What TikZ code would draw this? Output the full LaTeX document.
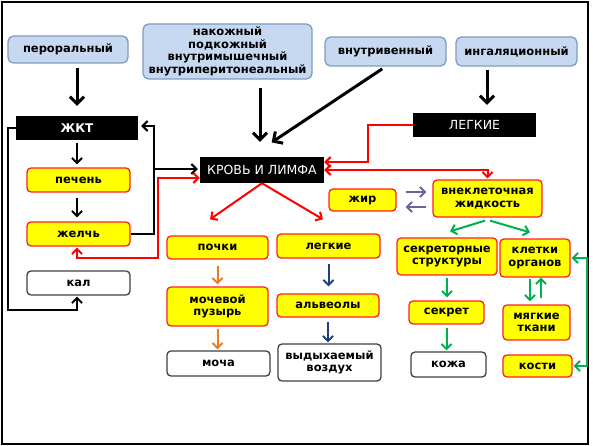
\documentclass[tikz,border=0pt]{standalone}
\usepackage{fontspec}
\setmainfont{DejaVu Sans}
\usetikzlibrary{arrows.meta,calc}
\definecolor{bluefill}{HTML}{C6D9F1}
\definecolor{blueline}{HTML}{7F9DC0}
\definecolor{ylw}{HTML}{FFFF00}
\definecolor{redl}{HTML}{FF2020}
\definecolor{grn}{HTML}{00B050}
\definecolor{orng}{HTML}{F07820}
\definecolor{dblue}{HTML}{1F3F7F}
\definecolor{purp}{HTML}{7060A0}
\definecolor{gryl}{HTML}{404040}
\begin{document}
\begin{tikzpicture}[x=1pt,y=-1pt,
 wh/.style n args={2}{minimum width=#1pt, minimum height=#2pt},
 box/.style={rounded corners=4pt, inner sep=0pt, align=center, font=\fontsize{11.5}{12.5}\selectfont\bfseries},
 route/.style={box, rounded corners=5.5pt, fill=bluefill, draw=blueline, line width=1.3pt},
 yel/.style={box, fill=ylw, draw=redl, line width=1.3pt},
 wht/.style={box, fill=white, draw=gryl, line width=1.3pt},
 blk/.style={inner sep=0pt, fill=black, text=white, align=center, font=\fontsize{12.5}{13.5}\selectfont},
 bigarr/.style={line width=3pt, -{Straight Barb[length=7pt,width=14pt]}},
 smarr/.style={line width=2pt, -{Straight Barb[length=5pt,width=10pt]}},
 redarr/.style={draw=red, line width=2pt, -{Straight Barb[length=5pt,width=10pt]}},
 redboth/.style={draw=red, line width=2pt, {Straight Barb[length=5pt,width=10pt]}-{Straight Barb[length=5pt,width=10pt]}},
 grnarr/.style={draw=grn, line width=2pt, -{Straight Barb[length=5pt,width=10pt]}},
 grnboth/.style={draw=grn, line width=2pt, {Straight Barb[length=5pt,width=10pt]}-{Straight Barb[length=5pt,width=10pt]}},
 orarr/.style={draw=orng, line width=2pt, -{Straight Barb[length=5pt,width=10pt]}},
 dbarr/.style={draw=dblue, line width=2pt, -{Straight Barb[length=5pt,width=10pt]}},
 puarr/.style={draw=purp, line width=2pt, -{Straight Barb[length=5pt,width=10pt]}},
]
\fill[white] (0,0) rectangle (593,446);
\useasboundingbox (0,0) rectangle (593,446);
\draw[line width=2pt] (1.5,2) rectangle (588,444);

% routes
\node[route, wh={120}{27}] (per) at (68,49.5) {пероральный};
\node[route, wh={169}{55}] (skin) at (227.5,51.5) {накожный\\подкожный\\внутримышечный\\внутриперитонеальный};
\node[route, wh={121}{29}] (iv) at (385.5,51.5) {внутривенный};
\node[route, wh={121}{29}] (inh) at (516.5,51.5) {ингаляционный};

% black boxes
\node[blk, wh={122}{24}, font=\fontsize{12}{13}\selectfont\bfseries] (gkt) at (77,128) {ЖКТ};
\node[blk, wh={123}{24}] (leg) at (474.5,125) {ЛЕГКИЕ};
\node[blk, wh={124}{26}] (blood) at (262,170) {КРОВЬ И ЛИМФА};

% left column
\node[yel, wh={103}{24}] (liver) at (78.5,180) {печень};
\node[yel, wh={103}{24}] (bile) at (78.5,234) {желчь};
\node[wht, wh={103}{24}] (feces) at (78.5,283) {кал};

% middle
\node[yel, wh={101}{23}] (kidn) at (217.5,247.5) {почки};
\node[yel, wh={103}{24}] (lungs) at (328.5,246) {легкие};
\node[yel, wh={101}{39}] (blad) at (217.5,306.5) {мочевой\\пузырь};
\node[yel, wh={102}{23}] (alv) at (328,305.5) {альвеолы};
\node[wht, wh={103}{25}] (urine) at (218.5,363.5) {моча};
\node[wht, wh={103}{37}] (air) at (329.5,362.5) {выдыхаемый\\воздух};

% right
\node[yel, wh={67}{22}] (fat) at (362.5,200) {жир};
\node[yel, wh={109}{37}] (ecf) at (487.5,198.5) {внеклеточная\\жидкость};
\node[yel, wh={100}{37}] (secs) at (447,256.5) {секреторные\\структуры};
\node[yel, wh={70}{38}] (cells) at (535,258) {клетки\\органов};
\node[yel, wh={75}{23}] (secr) at (446.5,312.5) {секрет};
\node[wht, wh={75}{25}] (kozha) at (448.5,364.5) {кожа};
\node[yel, wh={67}{35}] (soft) at (536.5,322.5) {мягкие\\ткани};
\node[yel, wh={69}{22}] (bone) at (537.5,366) {кости};

% route arrows
\draw[bigarr, shorten <=4pt, shorten >=10pt] (per.south -| gkt.north) -- (gkt.north);
\coordinate (b1) at ([xshift=-2pt]blood.north);
\draw[bigarr, shorten <=8pt, shorten >=15pt] (skin.south -| b1) -- (b1);
\coordinate (b2) at ([xshift=-12pt]blood.north);
\draw[bigarr, shorten <=4pt, shorten >=26pt] (iv.south) -- (b2);
\coordinate (l1) at ([xshift=12.5pt]leg.north);
\draw[bigarr, shorten <=3pt, shorten >=8pt] (inh.south -| l1) -- (l1);

% lungs (black) to blood
\draw[redarr] (leg.west) -- ++(-45,0) |- ([yshift=8pt]blood.east);
\draw[redboth, shorten >=1pt] (blood.east) -| (ecf.north);

% left column arrows
\draw[smarr, shorten <=3pt, shorten >=3pt] (gkt.south) -- (liver.north -| gkt.south);
\draw[smarr, shorten <=5pt, shorten >=4pt] (liver.south -| gkt.south) -- (bile.north -| gkt.south);
\draw[smarr, shorten >=3pt] (bile.east) -- ++(23,0) |- ([yshift=2pt]gkt.east);
\coordinate (j1) at (153,169);
\draw[smarr, shorten >=2pt] (j1) -- (j1 -| blood.west);
\draw[redboth, shorten >=1pt] ([yshift=-8pt]blood.west) -- ++(-42,0) -- ++(0,80) -| (bile.south -| gkt.south);
\draw[smarr, shorten >=1pt] (gkt.west) -- ++(-8,0) -- ++(0,182) -| (feces.south -| gkt.south);

% blood to kidneys / lungs
\draw[redarr] (blood.south) -- ($(kidn.north)+(-7.5,-16)$);
\draw[redarr] (blood.south) -- ($(lungs.north)+(-5.5,-14)$);

% orange
\draw[orarr, shorten <=6pt, shorten >=2pt] (kidn.south) -- (blad.north);
\draw[orarr, shorten <=2pt, shorten >=1pt] (blad.south) -- (blad.south |- urine.north);

% dark blue
\draw[dbarr, shorten <=5pt, shorten >=7pt] (lungs.south) -- (lungs.south |- alv.north);
\draw[dbarr, shorten <=4pt, shorten >=1pt] (alv.south) -- (alv.south |- air.north);

% purple
\draw[puarr, shorten <=9pt, shorten >=6pt] ([yshift=8pt]fat.east) -- ([yshift=8pt]fat.east -| ecf.west);
\draw[puarr, shorten <=6pt, shorten >=9pt] ([yshift=-7pt]fat.east -| ecf.west) -- ([yshift=-7pt]fat.east);

% green
\draw[grnarr] ($(ecf.south)+(-2.5,3)$) -- ($(secs.north)+(3,-6)$);
\draw[grnarr] ($(ecf.south)+(2.5,3)$) -- ($(cells.north)+(-5,-6)$);
\draw[grnarr, shorten <=2pt, shorten >=3pt] (secs.south) -- (secs.south |- secr.north);
\draw[grnarr, shorten <=3pt, shorten >=1pt] (secr.south) -- (secr.south |- kozha.north);
\draw[grnarr, shorten <=1pt, shorten >=3pt] ([xshift=-5pt]cells.south) -- ([xshift=-5pt]cells.south |- soft.north);
\draw[grnarr, shorten <=6pt, shorten >=0pt] ([xshift=6pt]cells.south |- soft.north) -- ([xshift=6pt]cells.south);
\draw[grnboth, shorten <=1pt, shorten >=1pt] (bone.east) -- ++(14,0) |- (cells.east);
\end{tikzpicture}
\end{document}
